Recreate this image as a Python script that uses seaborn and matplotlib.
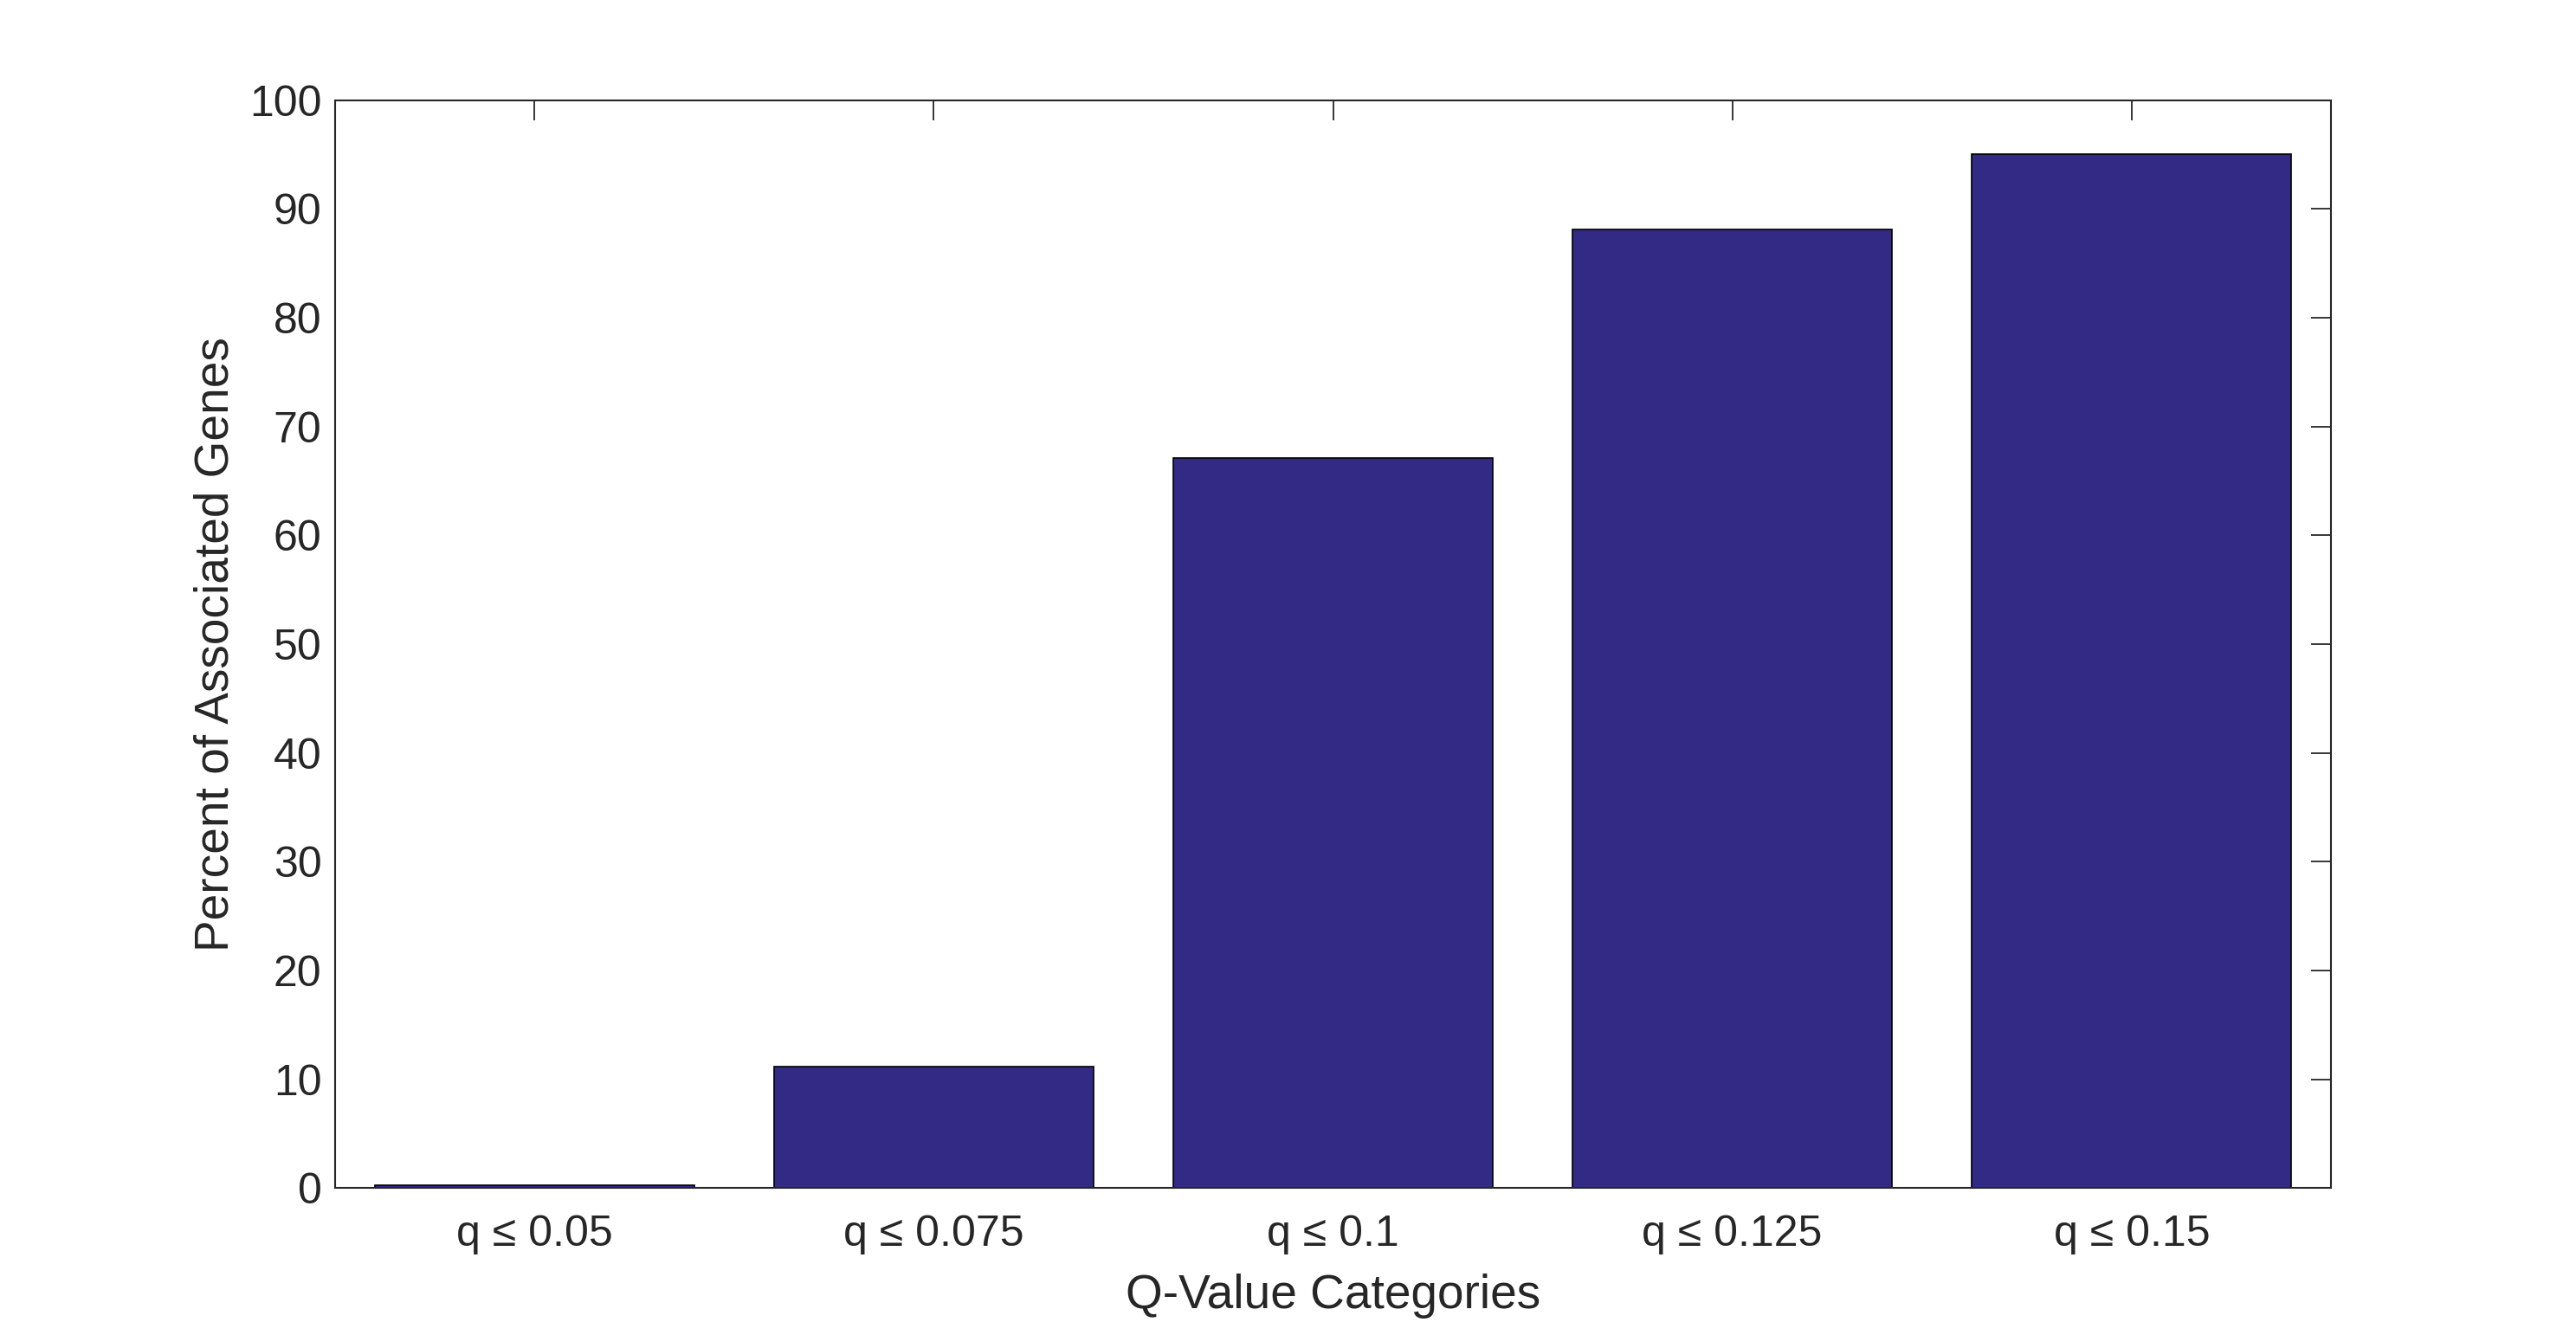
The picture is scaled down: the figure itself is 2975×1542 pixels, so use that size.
import matplotlib
matplotlib.use("Agg")
import matplotlib.pyplot as plt
import seaborn as sns
import pandas as pd

# values
categories = ["q ≤ 0.05", "q ≤ 0.075", "q ≤ 0.1", "q ≤ 0.125", "q ≤ 0.15"]
percent_genes = [0.3, 11.2, 67.1, 88.1, 95.0]
y_ticks = [0, 10, 20, 30, 40, 50, 60, 70, 80, 90, 100]

bar_color = "#332A86"
ink = "#262626"

sns.set_theme(style="white")
plt.rcParams['font.family'] = ['Liberation Sans', 'DejaVu Sans']

df = pd.DataFrame({'cat': categories, 'pct': percent_genes})

fig = plt.figure(figsize=(29.75, 15.42), dpi=100)
ax = fig.add_axes([0.13, 0.11, 0.775, 0.815])

sns.barplot(data=df, x='cat', y='pct', color=bar_color, saturation=1,
            width=0.8, edgecolor='black', linewidth=1.2, ax=ax)

ax.set_xlim(-0.5, 4.5)
ax.set_ylim(0, 100)
ax.set_yticks(y_ticks)

ax.tick_params(axis='both', direction='in', top=True, right=True,
               length=16.5, width=1.3, color=ink, labelcolor=ink, labelsize=36)
ax.tick_params(axis='x', pad=22)
ax.tick_params(axis='y', pad=11)

for s in ax.spines.values():
    s.set_visible(True)
    s.set_color(ink)
    s.set_linewidth(1.5)

ax.set_xlabel('Q-Value Categories', fontsize=39.6, color=ink, labelpad=16)
ax.set_ylabel('Percent of Associated Genes', fontsize=39.6, color=ink, labelpad=9)

fig.savefig('out.png', dpi=100, facecolor='white')
